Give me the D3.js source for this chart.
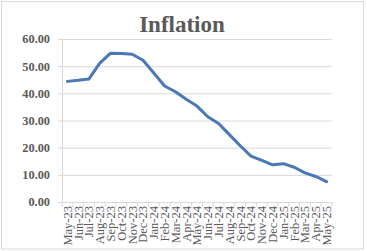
<!DOCTYPE html>
<html>
<head>
<meta charset="utf-8">
<script src="https://cdn.jsdelivr.net/npm/d3@7"></script>
<style>
  body { margin: 0; background: #fff; }
  svg text { font-family: "Liberation Serif", "Times New Roman", serif; }
  .axis text { fill: #595959; }
  .axisY text { font-weight: bold; font-size: 12.3px; }
  .axisX text { font-size: 12.5px; }
  .axis line, .axis path { stroke: #d9d9d9; }
  .grid line { stroke: #d9d9d9; }
</style>
</head>
<body>
<svg id="chart" width="367" height="251"></svg>
<script>
const months = ["May-23", "Jun-23", "Jul-23", "Aug-23", "Sep-23", "Oct-23", "Nov-23", "Dec-23",
  "Jan-24", "Feb-24", "Mar-24", "Apr-24", "May-24", "Jun-24", "Jul-24", "Aug-24", "Sep-24",
  "Oct-24", "Nov-24", "Dec-24", "Jan-25", "Feb-25", "Mar-25", "Apr-25", "May-25"];
const inflation = [44.4, 44.8, 45.3, 51.1, 54.8, 54.7, 54.4, 52.2,
  47.5, 42.7, 40.6, 37.8, 35.3, 31.4, 28.9, 24.8, 20.7,
  16.9, 15.3, 13.7, 14.1, 12.8, 10.7, 9.4, 7.5];
const yTicks = [0, 10, 20, 30, 40, 50, 60];

const svg = d3.select("#chart");
const W = +svg.attr("width"), H = +svg.attr("height");

// chart border
svg.append("rect")
  .attr("x", 1.5).attr("y", 1.5)
  .attr("width", W - 5).attr("height", H - 3.5)
  .attr("fill", "#fff").attr("stroke", "#d9d9d9");

svg.append("text")
  .attr("x", 182).attr("y", 32)
  .attr("text-anchor", "middle")
  .style("font-weight", "bold")
  .style("font-size", "23px")
  .attr("fill", "#595959")
  .text("Inflation");

const margin = { top: 39, right: 35, bottom: 49, left: 62 };
const width = W - margin.left - margin.right;
const height = H - margin.top - margin.bottom;
const g = svg.append("g")
  .attr("transform", "translate(" + margin.left + "," + margin.top + ")");

const x = d3.scaleBand().domain(months).range([0, width]);
const y = d3.scaleLinear().domain([0, 60]).range([height, 0]);

g.append("g")
  .attr("class", "grid")
  .call(d3.axisLeft(y).tickValues(yTicks).tickSize(-width).tickFormat(""))
  .call(a => a.select(".domain").remove());

g.append("g")
  .attr("class", "axis axisY")
  .call(d3.axisLeft(y).tickValues(yTicks).tickSize(4).tickPadding(8).tickFormat(d3.format(".2f")))
  .attr("font-family", null);

// category ticks sit between the bands
const xAxis = g.append("g")
  .attr("class", "axis axisX")
  .attr("transform", "translate(0," + height + ")")
  .call(d3.axisBottom(x).tickSize(0).tickSizeOuter(0))
  .attr("font-family", null);
xAxis.selectAll(".tick text")
  .attr("transform", "rotate(-90)")
  .attr("text-anchor", "end")
  .attr("x", -4)
  .attr("y", 0)
  .attr("dy", "0.35em");
xAxis.selectAll(".sep")
  .data(months.concat([null]))
  .enter()
  .append("line")
  .attr("x1", (d, i) => i * x.step())
  .attr("x2", (d, i) => i * x.step())
  .attr("y1", 0).attr("y2", 5)
  .attr("stroke", "#d9d9d9");

const line = d3.line()
  .x((d, i) => x(months[i]) + x.bandwidth() / 2)
  .y(d => y(d));

g.append("path")
  .datum(inflation)
  .attr("fill", "none")
  .attr("stroke", "#4a78b6")
  .attr("stroke-width", 3)
  .attr("stroke-linejoin", "round")
  .attr("stroke-linecap", "round")
  .attr("d", line);
</script>
</body>
</html>
